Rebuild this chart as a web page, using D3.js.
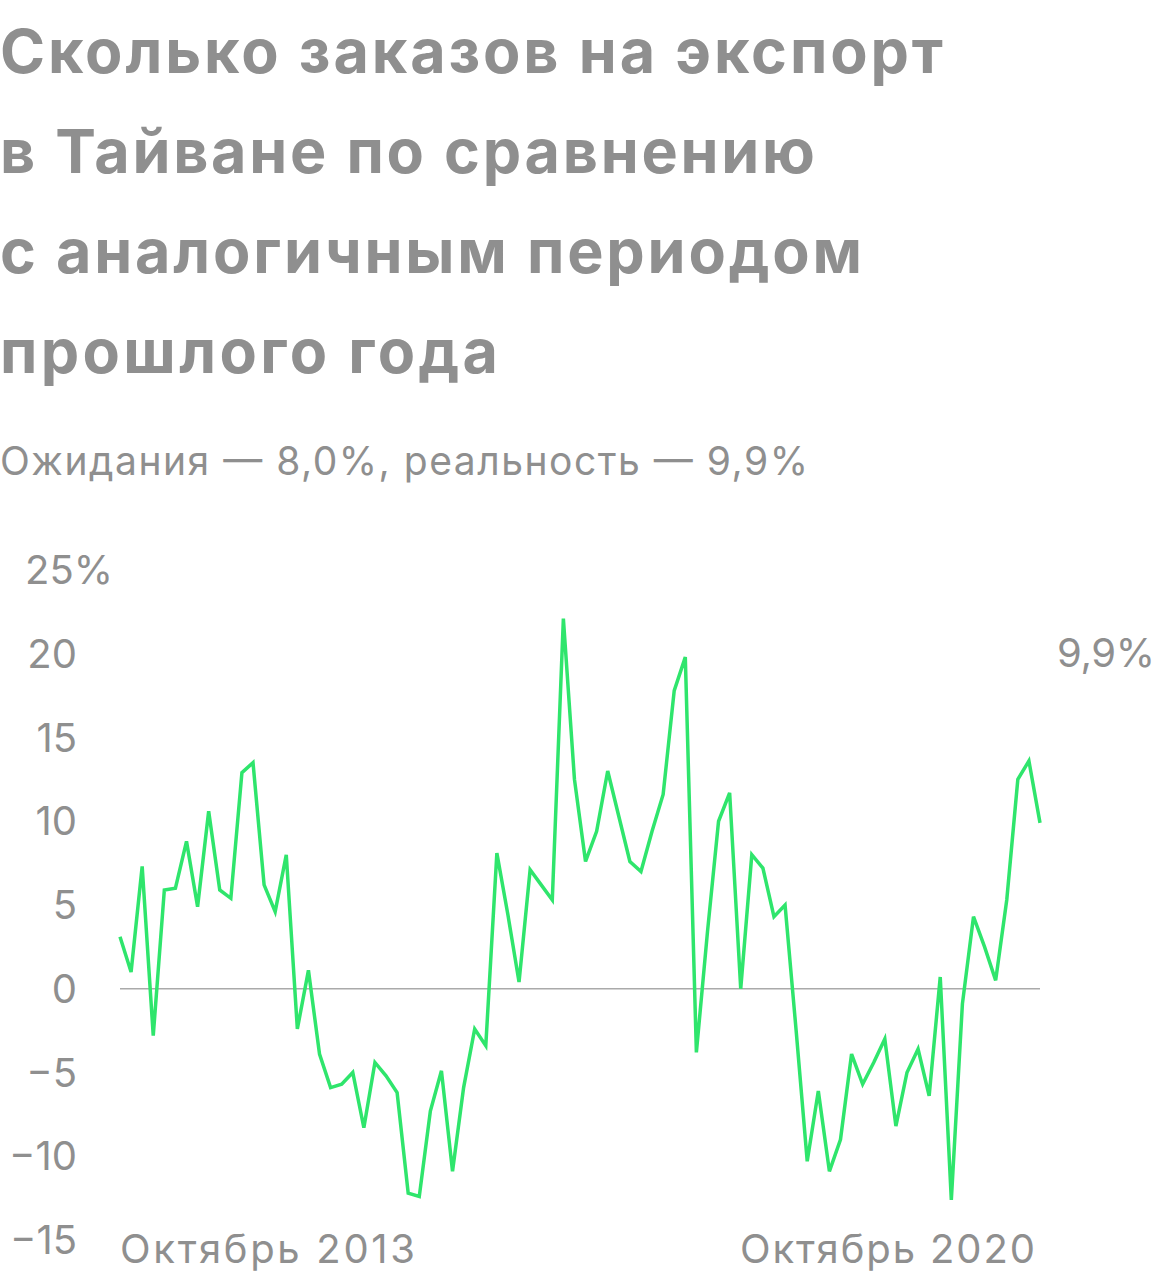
<!DOCTYPE html><html><head><meta charset="utf-8">
<script src="https://cdn.jsdelivr.net/npm/d3@7"></script>
<style>body{margin:0;background:#fff}</style></head><body>
<svg id="c" width="1160" height="1280"></svg>
<script>
const titleLines=["Сколько заказов на экспорт","в Тайване по сравнению","с аналогичным периодом","прошлого года"];
const titleWidths=[943,815,862,498];
const subtitle="Ожидания — 8,0%, реальность — 9,9%";
const yTicks=[25,20,15,10,5,0,-5,-10,-15];
const yTickLabels=["25%","20","15","10","5","0","−5","−10","−15"];
const xLabels=["Октябрь 2013","Октябрь 2020"];
const lastLabel="9,9%";
const values=[3.1,1.0,7.3,-2.8,5.9,6.0,8.8,4.9,10.6,5.9,5.4,12.9,13.5,6.2,4.6,8.0,-2.4,1.1,-3.9,-5.9,-5.7,-5.0,-8.3,-4.4,-5.2,-6.2,-12.2,-12.4,-7.3,-4.9,-10.9,-5.9,-2.4,-3.4,8.1,4.4,0.4,7.1,6.2,5.3,22.1,12.5,7.6,9.4,13.0,10.3,7.6,7.0,9.4,11.6,17.8,19.8,-3.8,3.4,10.0,11.7,0.0,8.0,7.2,4.3,5.0,-2.5,-10.3,-6.1,-10.9,-9.0,-3.9,-5.7,-4.4,-3.0,-8.2,-5.0,-3.6,-6.4,0.7,-12.6,-0.9,4.3,2.5,0.5,5.3,12.5,13.6,9.9];
const svg=d3.select("#c");
const grey="#8f8f8f", F="Inter, Roboto, sans-serif";
svg.append("g").selectAll("text").data(titleLines).join("text")
 .attr("x",0).attr("y",(d,i)=>73+i*100).attr("fill",grey)
 .attr("font-family",F).attr("font-weight",700).attr("font-size",61)
 .attr("textLength",(d,i)=>titleWidths[i]).attr("lengthAdjust","spacing").text(d=>d);
svg.append("text").attr("x",0).attr("y",475).attr("fill",grey).attr("font-family",F).attr("font-size",39)
 .attr("textLength",808).attr("lengthAdjust","spacing").text(subtitle);
const x=d3.scaleLinear().domain([0,values.length-1]).range([120,1040]);
const y=d3.scaleLinear().domain([-15,25]).range([1240,570]);
svg.append("g").selectAll("text").data(yTicks).join("text")
 .attr("x",(d,i)=>i==0?25:77).attr("text-anchor",(d,i)=>i==0?"start":"end").attr("y",d=>y(d)+14).attr("fill",grey)
 .attr("font-family",F).attr("font-size",40).text((d,i)=>yTickLabels[i]);
svg.append("line").attr("x1",120).attr("x2",1040).attr("y1",y(0)).attr("y2",y(0)).attr("stroke","#aaa").attr("stroke-width",1.5);
svg.append("path").datum(values).attr("fill","none").attr("stroke","#2fe56c").attr("stroke-width",3.5)
 .attr("d",d3.line().x((d,i)=>x(i)).y(d=>y(d)));
svg.append("text").attr("x",120).attr("y",1263).attr("fill",grey).attr("font-family",F).attr("font-size",40)
 .attr("textLength",295).attr("lengthAdjust","spacing").text(xLabels[0]);
svg.append("text").attr("x",740).attr("y",1263).attr("fill",grey).attr("font-family",F).attr("font-size",40)
 .attr("textLength",295).attr("lengthAdjust","spacing").text(xLabels[1]);
svg.append("text").attr("x",1057).attr("y",667).attr("fill",grey).attr("font-family",F).attr("font-size",40)
 .attr("textLength",98).attr("lengthAdjust","spacing").text(lastLabel);
</script></body></html>
